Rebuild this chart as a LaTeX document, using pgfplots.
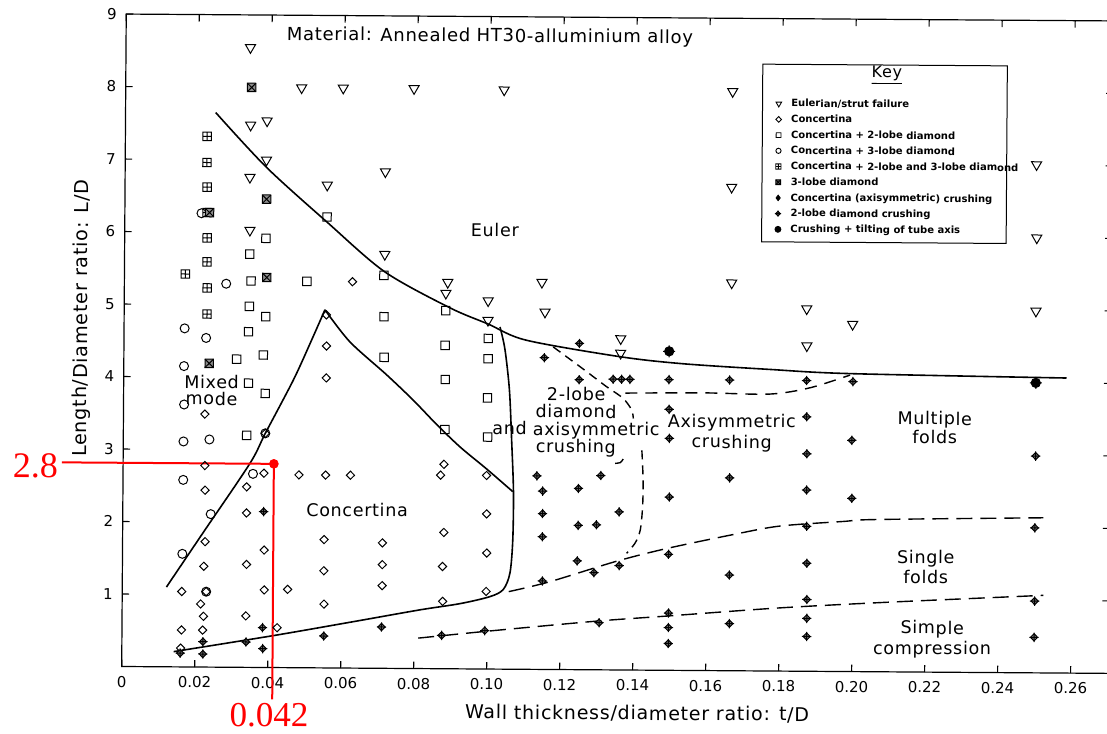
\documentclass[border=0pt]{standalone}
\usepackage{fontspec}
\setmainfont{DejaVu Sans}
\newfontfamily\labfont{DejaVu Sans}[LetterSpace=4]
\newfontfamily\annofont{Liberation Serif}
\usepackage{pgfplots}
\pgfplotsset{compat=1.18}

\pgfdeclareplotmark{sqplus}{%
  \pgfpathrectangle{\pgfqpoint{-\pgfplotmarksize}{-\pgfplotmarksize}}{\pgfqpoint{2\pgfplotmarksize}{2\pgfplotmarksize}}%
  \pgfpathmoveto{\pgfqpoint{-\pgfplotmarksize}{0pt}}%
  \pgfpathlineto{\pgfqpoint{\pgfplotmarksize}{0pt}}%
  \pgfpathmoveto{\pgfqpoint{0pt}{-\pgfplotmarksize}}%
  \pgfpathlineto{\pgfqpoint{0pt}{\pgfplotmarksize}}%
  \pgfusepathqstroke}
\pgfdeclareplotmark{sqx}{%
  \pgfpathrectangle{\pgfqpoint{-\pgfplotmarksize}{-\pgfplotmarksize}}{\pgfqpoint{2\pgfplotmarksize}{2\pgfplotmarksize}}%
  \pgfusepathqfillstroke
  \pgfpathmoveto{\pgfqpoint{-\pgfplotmarksize}{-\pgfplotmarksize}}%
  \pgfpathlineto{\pgfqpoint{\pgfplotmarksize}{\pgfplotmarksize}}%
  \pgfpathmoveto{\pgfqpoint{-\pgfplotmarksize}{\pgfplotmarksize}}%
  \pgfpathlineto{\pgfqpoint{\pgfplotmarksize}{-\pgfplotmarksize}}%
  \pgfusepathqstroke}
\pgfdeclareplotmark{crush}{%
  \pgfpathmoveto{\pgfqpoint{0pt}{\pgfplotmarksize}}%
  \pgfpathlineto{\pgfqpoint{\pgfplotmarksize}{0pt}}%
  \pgfpathlineto{\pgfqpoint{0pt}{-\pgfplotmarksize}}%
  \pgfpathlineto{\pgfqpoint{-\pgfplotmarksize}{0pt}}%
  \pgfpathclose\pgfusepathqfillstroke
  \pgfpathmoveto{\pgfqpoint{-1.3\pgfplotmarksize}{0pt}}%
  \pgfpathlineto{\pgfqpoint{1.3\pgfplotmarksize}{0pt}}%
  \pgfpathmoveto{\pgfqpoint{0pt}{-1.3\pgfplotmarksize}}%
  \pgfpathlineto{\pgfqpoint{0pt}{1.3\pgfplotmarksize}}%
  \pgfusepathqstroke}
\pgfdeclareplotmark{crushbig}{%
  \pgfpathcircle{\pgfpointorigin}{\pgfplotmarksize}%
  \pgfusepathqfillstroke
  \pgfpathmoveto{\pgfqpoint{-1.3\pgfplotmarksize}{0pt}}%
  \pgfpathlineto{\pgfqpoint{1.3\pgfplotmarksize}{0pt}}%
  \pgfpathmoveto{\pgfqpoint{0pt}{-1.3\pgfplotmarksize}}%
  \pgfpathlineto{\pgfqpoint{0pt}{1.3\pgfplotmarksize}}%
  \pgfusepathqstroke}

\begin{document}
\begin{tikzpicture}
\useasboundingbox (-60.85pt,-33.25pt) rectangle (492.65pt,333.25pt);
\begin{scope}[rotate=-0.4]
\begin{axis}[
  at={(0pt,0pt)}, anchor=south west,
  scale only axis, width=493.66pt, height=326.25pt,
  xmin=0, xmax=0.2705, ymin=0, ymax=9,
  xtick={0,0.02,0.04,0.06,0.08,0.10,0.12,0.14,0.16,0.18,0.20,0.22,0.24,0.26},
  xticklabels={0,0.02,0.04,0.06,0.08,0.10,0.12,0.14,0.16,0.18,0.20,0.22,0.24,0.26},
  ytick={1,2,3,4,5,6,7,8,9},
  yticklabels={1,2,3,4,5,6,7,8,9},
  tick align=inside, major tick length=3.5pt,
  tick style={black, line width=0.55pt},
  axis line style={black, line width=0.6pt},
  /pgf/number format/assume math mode=true,
  ticklabel style={font=\fontsize{7.5}{8}\selectfont},
  xticklabel style={yshift=-1.25pt},
  yticklabel style={xshift=-1.25pt},
  clip=false,
  legend cell align=left,
  legend image code/.code={\draw[#1] plot coordinates {(0pt,0pt)};},
  legend style={at={(0.658,0.8778)}, anchor=north west, draw=none, fill=none,
    inner sep=0pt, row sep=2.85pt,
    nodes={inner sep=0pt, text height=4pt, text depth=1pt, font=\fontsize{5}{6}\bfseries\selectfont},
    /tikz/every odd column/.append style={column sep=4.7pt}},
]
% ---------------- region boundaries ----------------
\addplot[smooth, line width=0.8pt, forget plot] coordinates {
 (0.0247,7.65) (0.0387,6.90) (0.0554,6.15) (0.0713,5.47) (0.0892,4.98) (0.0997,4.76)
 (0.1102,4.54) (0.1361,4.32) (0.1532,4.23) (0.1770,4.16) (0.1989,4.11) (0.2583,4.07)};
\addplot[smooth, line width=0.8pt, forget plot] coordinates {
 (0.0121,1.10) (0.0220,1.85) (0.0347,2.81) (0.0389,3.23) (0.0465,3.97) (0.0514,4.52) (0.0550,4.94)};
\addplot[smooth, line width=0.8pt, forget plot] coordinates {
 (0.0550,4.94) (0.0619,4.50) (0.0720,4.05) (0.0794,3.70) (0.0858,3.37) (0.0923,3.06) (0.0996,2.76) (0.1068,2.45)};
\addplot[smooth, line width=0.8pt, forget plot] coordinates {
 (0.0142,0.21) (0.0414,0.44) (0.0633,0.64) (0.0816,0.81) (0.0926,0.90) (0.1008,1.00)
 (0.1044,1.10) (0.1062,1.33) (0.1069,1.78) (0.1070,2.45) (0.1064,3.16) (0.1057,3.85)
 (0.1044,4.41) (0.1030,4.72)};
\addplot[smooth, line width=0.7pt, dash pattern=on 8pt off 4pt, forget plot] coordinates {
 (0.0812,0.42) (0.0997,0.52) (0.1297,0.67) (0.1497,0.75) (0.1797,0.87) (0.2097,0.96) (0.2524,1.07)};
\addplot[smooth, line width=0.7pt, dash pattern=on 8pt off 4pt, forget plot] coordinates {
 (0.1059,1.07) (0.1171,1.21) (0.1354,1.50) (0.1491,1.68) (0.1674,1.88) (0.1800,2.00)
 (0.1974,2.07) (0.2065,2.10) (0.2522,2.14)};
\addplot[smooth, line width=0.7pt, dash pattern=on 4.5pt off 3pt, forget plot] coordinates {
 (0.1176,4.45) (0.1258,4.15) (0.1322,3.91) (0.1368,3.75) (0.1392,3.59) (0.1397,3.47)};
\addplot[smooth, line width=0.7pt, forget plot] coordinates {
 (0.1370,2.91) (0.1362,2.86) (0.1348,2.85)};
\addplot[smooth, line width=0.7pt, dash pattern=on 4.5pt off 3pt, forget plot] coordinates {
 (0.1421,3.03) (0.1425,2.62) (0.1424,2.25) (0.1418,1.93) (0.1404,1.75) (0.1381,1.61)};
\addplot[smooth, line width=0.7pt, dash pattern=on 6pt off 4pt, forget plot] coordinates {
 (0.1375,3.82) (0.1593,3.83) (0.1770,3.82) (0.1880,3.91) (0.1990,4.09)};
% ---------------- data points ----------------
% Eulerian / strut failure
\addplot[only marks, mark=triangle, mark size=2.9pt, mark options={rotate=180, fill=white, line width=0.5pt}, forget plot] coordinates {
 (0.0341,8.55) (0.0482,8.00) (0.0596,8.00) (0.0790,8.00) (0.1037,7.99) (0.1663,7.99)
 (0.0343,7.48) (0.0388,7.54) (0.0387,7.00) (0.0342,6.76) (0.0554,6.66) (0.0713,6.85)
 (0.0343,6.03) (0.0713,5.71) (0.0886,5.33) (0.0881,5.18) (0.1144,5.34) (0.0997,5.08)
 (0.1153,4.93) (0.0997,4.81) (0.1361,4.57) (0.1662,6.67) (0.1664,5.35) (0.1361,4.37)
 (0.1870,5.00) (0.1996,4.79) (0.1871,4.49) (0.2498,4.99) (0.2499,6.00) (0.2497,7.01)};
% Concertina + 2-lobe diamond
\addplot[only marks, mark=square, mark size=2.1pt, mark options={fill=white, line width=0.5pt}, forget plot] coordinates {
 (0.0554,6.22) (0.0387,5.92) (0.0343,5.70) (0.0347,5.33) (0.0500,5.33) (0.0711,5.42)
 (0.0343,4.98) (0.0388,4.84) (0.0712,4.85) (0.0881,4.94) (0.0341,4.63) (0.0880,4.46)
 (0.0309,4.25) (0.0382,4.31) (0.0713,4.29) (0.0342,3.92) (0.0388,3.78) (0.0881,3.99)
 (0.0338,3.20) (0.0881,3.30) (0.0998,4.56) (0.0998,4.28) (0.0997,3.74) (0.0998,3.20)};
% Concertina + 3-lobe diamond
\addplot[only marks, mark=o, mark size=2.25pt, mark options={line width=0.5pt}, forget plot] coordinates {
 (0.0279,5.29) (0.0166,4.67) (0.0225,4.54) (0.0210,6.26) (0.0165,4.15) (0.0166,3.62)
 (0.0165,3.11) (0.0236,3.14) (0.0165,2.58) (0.0356,2.67) (0.0241,2.11) (0.0164,1.56)
 (0.0389,3.23) (0.0230,1.04)};
% Concertina
\addplot[only marks, mark=square, mark size=1.45pt, mark options={rotate=45, line width=0.5pt}, forget plot] coordinates {
 (0.0625,5.33) (0.0554,4.87) (0.0555,4.44) (0.0555,4.00) (0.0223,3.49) (0.0224,2.78)
 (0.0386,2.68) (0.0482,2.66) (0.0555,2.66) (0.0623,2.66) (0.0879,2.82) (0.0870,2.67)
 (0.0339,2.49) (0.0225,2.44) (0.0339,2.13) (0.0552,1.77) (0.0880,1.88) (0.0712,1.73)
 (0.0226,1.73) (0.0388,1.62) (0.0340,1.42) (0.0223,1.39) (0.0552,1.34) (0.0712,1.43)
 (0.0877,1.41) (0.0712,1.14) (0.0163,1.04) (0.0230,1.04) (0.0389,1.07) (0.0453,1.08)
 (0.0215,0.87) (0.0553,0.88) (0.0878,0.93) (0.0223,0.70) (0.0339,0.71) (0.0163,0.51)
 (0.0221,0.51) (0.0425,0.55) (0.0161,0.26) (0.0996,2.67) (0.0997,2.14) (0.0998,1.60)
 (0.0997,1.07) (0.0389,3.23)};
% Concertina + 2-lobe and 3-lobe diamond
\addplot[only marks, mark=sqplus, mark size=2.1pt, mark options={line width=0.5pt}, forget plot] coordinates {
 (0.0224,7.32) (0.0224,6.96) (0.0225,6.62) (0.0225,6.27) (0.0226,5.92) (0.0226,5.59)
 (0.0227,5.23) (0.0227,4.87) (0.0167,5.42)};
% 3-lobe diamond
\addplot[only marks, mark=sqx, mark size=2.1pt, mark options={fill=black!45, line width=0.5pt}, forget plot] coordinates {
 (0.0345,8.00) (0.0388,6.46) (0.0390,5.38) (0.0234,4.19) (0.0232,6.27)};
% Concertina (axisymmetric) crushing
\addplot[only marks, mark=crush, mark size=1.8pt, mark options={fill=black!55, line width=0.5pt}, forget plot] coordinates {
 (0.0160,0.19) (0.0222,0.35) (0.0222,0.18) (0.0340,0.35) (0.0385,0.55) (0.0386,0.26)
 (0.0553,0.44) (0.0711,0.57) (0.0876,0.46) (0.0994,0.53) (0.0386,2.15) (0.1387,4.01)
 (0.1494,4.01) (0.1660,4.01) (0.1495,3.60) (0.1496,3.20) (0.1497,2.39) (0.1662,2.66)
 (0.1496,1.60) (0.1663,1.32) (0.1307,0.65) (0.1497,0.79) (0.1497,0.59) (0.1497,0.37)
 (0.1664,0.65) (0.1871,4.01) (0.1998,4.00) (0.1872,3.51) (0.1996,3.19) (0.1873,3.00)
 (0.2500,2.99) (0.1873,2.50) (0.1997,2.39) (0.1874,2.00) (0.2499,2.00) (0.1875,1.49)
 (0.1876,0.99) (0.2500,0.99) (0.1876,0.73) (0.1876,0.48) (0.2499,0.49)};
% 2-lobe diamond crushing
\addplot[only marks, mark=crush, mark size=1.8pt, mark options={fill=black!55, line width=0.5pt}, forget plot] coordinates {
 (0.1152,4.30) (0.1248,4.50) (0.1248,4.00) (0.1341,4.01) (0.1364,4.01) (0.1134,2.67)
 (0.1309,2.68) (0.1150,2.46) (0.1248,2.50) (0.1150,2.15) (0.1248,1.99) (0.1298,2.00)
 (0.1360,2.18) (0.1150,1.83) (0.1246,1.50) (0.1292,1.34) (0.1361,1.44) (0.1151,1.22)};
% Crushing + tilting of tube axis
\addplot[only marks, mark=crushbig, mark size=2.3pt, mark options={fill=black, line width=0.5pt}, forget plot] coordinates {
 (0.1494,4.40) (0.2499,4.00)};
% ---------------- key ----------------
\draw[line width=0.5pt] (axis cs:0.1745,5.92) rectangle (axis cs:0.2415,8.37);
\node[font=\labfont\fontsize{8}{9}\selectfont] at (axis cs:0.2085,8.23) {\underline{Key}};
\addlegendimage{mark=triangle, mark size=1.6pt, mark options={rotate=180, line width=0.45pt}}
\addlegendentry{Eulerian/strut failure}
\addlegendimage{mark=square, mark size=1.0pt, mark options={rotate=45, line width=0.45pt}}
\addlegendentry{Concertina}
\addlegendimage{mark=square, mark size=1.2pt, mark options={line width=0.45pt}}
\addlegendentry{Concertina + 2-lobe diamond}
\addlegendimage{mark=o, mark size=1.3pt, mark options={line width=0.45pt}}
\addlegendentry{Concertina + 3-lobe diamond}
\addlegendimage{mark=sqplus, mark size=1.3pt, mark options={line width=0.45pt}}
\addlegendentry{Concertina + 2-lobe and 3-lobe diamond}
\addlegendimage{mark=sqx, mark size=1.2pt, mark options={fill=black!60, line width=0.45pt}}
\addlegendentry{3-lobe diamond}
\addlegendimage{mark=diamond*, mark size=1.4pt, mark options={fill=black}}
\addlegendentry{Concertina (axisymmetric) crushing}
\addlegendimage{mark=crush, mark size=1.2pt, mark options={fill=black!60, line width=0.45pt}}
\addlegendentry{2-lobe diamond crushing}
\addlegendimage{mark=*, mark size=1.5pt, mark options={fill=black}}
\addlegendentry{Crushing + tilting of tube axis}
% ---------------- texts ----------------
\node[font=\labfont\fontsize{9}{11}\selectfont] at (axis cs:0.0997,8.72) {Material: Annealed HT30-alluminium alloy};
\node[font=\labfont\fontsize{8.75}{10}\selectfont] at (axis cs:0.1014,6.06) {Euler};
\node[align=center, font=\labfont\fontsize{8.75}{8.3}\selectfont] at (axis cs:0.0241,3.82) {Mixed\\mode};
\node[font=\labfont\fontsize{8.75}{10}\selectfont] at (axis cs:0.0642,2.18) {Concertina};
\node[align=center, font=\labfont\fontsize{8.75}{8.75}\selectfont] at (axis cs:0.1240,3.42) {2-lobe\\diamond\\and axisymmetric\\crushing};
\node[align=center, font=\labfont\fontsize{8.75}{10.3}\selectfont] at (axis cs:0.1667,3.28) {Axisymmetric\\crushing};
\node[align=center, font=\labfont\fontsize{8.75}{9.5}\selectfont] at (axis cs:0.2223,3.37) {Multiple\\folds};
\node[align=center, font=\labfont\fontsize{8.75}{10.3}\selectfont] at (axis cs:0.2201,1.45) {Single\\folds};
\node[align=center, font=\labfont\fontsize{8.75}{10.3}\selectfont] at (axis cs:0.2220,0.45) {Simple\\compression};
\node[rotate=90, font=\labfont\fontsize{9.6}{12}\selectfont] at (axis cs:-0.0115,4.80) {Length/Diameter ratio: L/D};
\node[anchor=base, font=\labfont\fontsize{9.5}{11}\selectfont] at (axis cs:0.1413,-0.688) {Wall thickness/diameter ratio: t/D};
% ---------------- red annotation ----------------
\addplot[red, line width=1pt, forget plot] coordinates {(-0.01675,2.81) (0.0413,2.81) (0.0413,-0.44)};
\addplot[red, only marks, mark=*, mark size=2.2pt, forget plot] coordinates {(0.0413,2.81)};
\node[red, inner sep=0pt, font=\annofont\fontsize{18}{18}\selectfont] at (axis cs:-0.0240,2.76) {2.8};
\node[red, inner sep=0pt, font=\annofont\fontsize{17.5}{17.5}\selectfont] at (axis cs:0.0405,-0.655) {0.042};
\end{axis}
\end{scope}
\end{tikzpicture}
\end{document}
